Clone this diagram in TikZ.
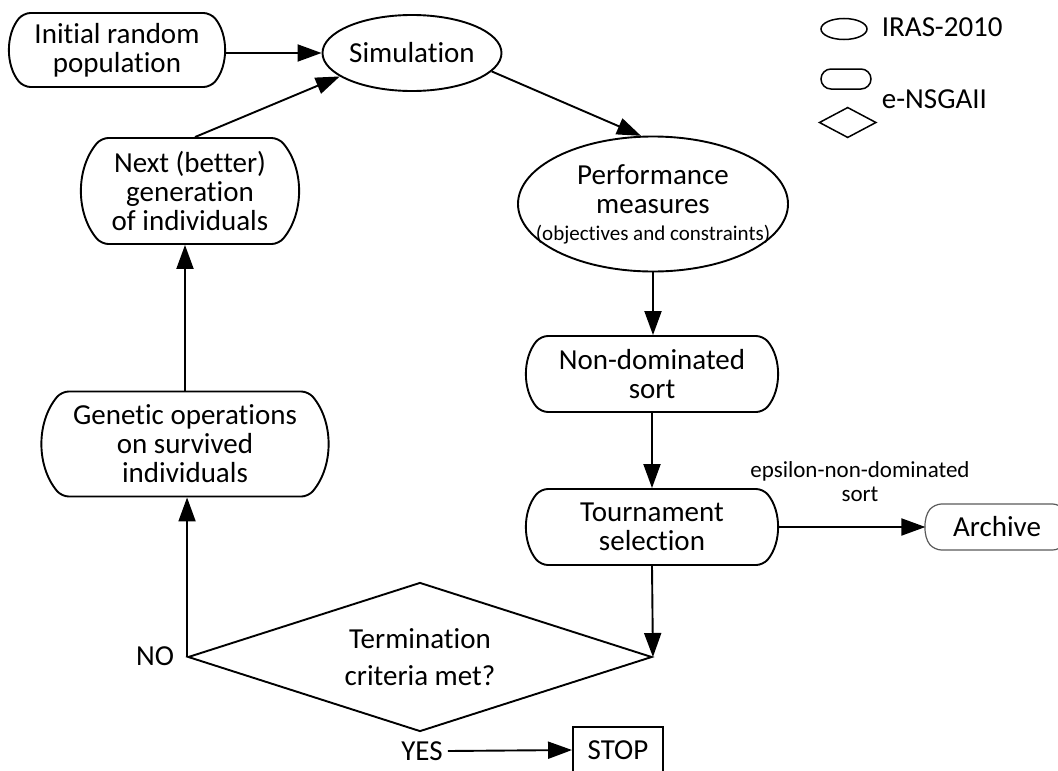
\documentclass[tikz,border=0pt]{standalone}
\usepackage{fontspec}
\setmainfont{Carlito}[Ligatures={NoCommon,NoContextual,NoRequired},
  RawFeature=-liga, RawFeature=-clig, RawFeature=-dlig, RawFeature=-calt]
\usetikzlibrary{shapes.geometric,shapes.misc,arrows.meta}
\newcommand\bigtxt{\fontsize{29pt}{29pt}\selectfont}
\newcommand\smalltxt{\fontsize{21pt}{24pt}\selectfont}
\newcommand\midtxt{\fontsize{23pt}{23.3pt}\selectfont}
\begin{document}
\begin{tikzpicture}[x=1pt,y=-1pt,
  every node/.style={font=\bigtxt},
  term/.style={rounded rectangle, rounded rectangle arc length=80, draw,
    rounded corners=7pt,
    line width=1.9pt, inner xsep=0pt, inner ysep=0pt, align=center},
  oval/.style={ellipse, draw, line width=1.9pt, inner sep=0pt},
  arr/.style={line width=1.9pt, -{Triangle[length=24pt,width=17pt]}},
  legendline/.style={draw, line width=1.5pt, inner sep=0pt},
]
\useasboundingbox (0,0) rectangle (1058,771);

% ---- process boxes ----
\node[term, minimum width=214pt, minimum height=74pt] (init) at (117,50) {Initial random\\population};
\node[oval, minimum width=179pt, minimum height=76pt] (sim) at (412,53) {Simulation};
\node[term, minimum width=216pt, minimum height=106pt] (next) at (190,191) {Next (better)\\generation\\of individuals};
\node[term, minimum width=285pt, minimum height=105pt] (gen) at (185,444) {Genetic operations\\on survived\\individuals};
\node[oval, minimum width=270pt, minimum height=135pt] (perf) at (653,204) {};
\node[align=center, inner sep=0pt] (perftext) at (perf.center) {Performance\\measures\\[-2pt]{\smalltxt (objectives and constraints)}};
\node[term, minimum width=250pt, minimum height=76pt] (nd) at (652,374) {Non-dominated\\sort};
\node[term, minimum width=250pt, minimum height=76pt] (tour) at (652,527) {Tournament\\selection};
\node[term, draw=black!65, line width=1.2pt, minimum width=142pt, minimum height=46pt] (arch) at (997,527) {Archive};
\node[diamond, aspect=3.1, draw, line width=1.9pt, minimum width=464pt, minimum height=149pt, inner sep=0pt,
  align=center, font=\fontsize{29pt}{36.7pt}\selectfont] (crit) at (420,657) {Termination\\criteria met?};
\node[draw, line width=1.9pt, minimum width=90pt, minimum height=46pt, inner sep=0pt] (stop) at (618,750) {STOP};

% ---- labels ----
\node[inner sep=0pt] (yes) at (422,751) {YES};
\node[inner sep=0pt] (no) at (155,656) {NO};
\node[align=center, inner sep=0pt, font=\midtxt] (epslab) at (860,481.5) {epsilon-non-dominated\\sort};

% ---- connectors ----
\draw[arr] (sim.west -| init.east) -- (sim.west);
\draw[arr] ([xshift=5pt]next.north) -- (sim.198);
\draw[arr] (sim.-13) -- (perf.100);
\draw[arr] (perf.south) -- (perf.south |- nd.north);
\draw[arr] (nd.south) -- (tour.north);
\draw[arr] (tour.south) -- (crit.east);
\draw[arr] (tour.east) -- (tour.east -| arch.west);
\draw[arr] (crit.west) -- (crit.west |- gen.south);
\draw[arr] (gen.north) -- (gen.north |- next.south);
\draw[arr] ([xshift=5pt]yes.east) -- (stop.west);

% ---- legend ----
\node[ellipse, legendline, minimum width=46pt, minimum height=21pt] (lgell) at (844,29) {};
\node[anchor=west, inner sep=0pt] (lgiras) at (881.7,27) {IRAS-2010};
\node[rounded rectangle, legendline, minimum width=50pt, minimum height=20pt] (lgrect) at (846,79) {};
\node[diamond, legendline, minimum width=57pt, minimum height=30.5pt] (lgdia) at (847.7,122.5) {};
\node[anchor=west, inner sep=0pt] (lgnsga) at (881.7,99.3) {e-NSGAII};
\end{tikzpicture}
\end{document}
